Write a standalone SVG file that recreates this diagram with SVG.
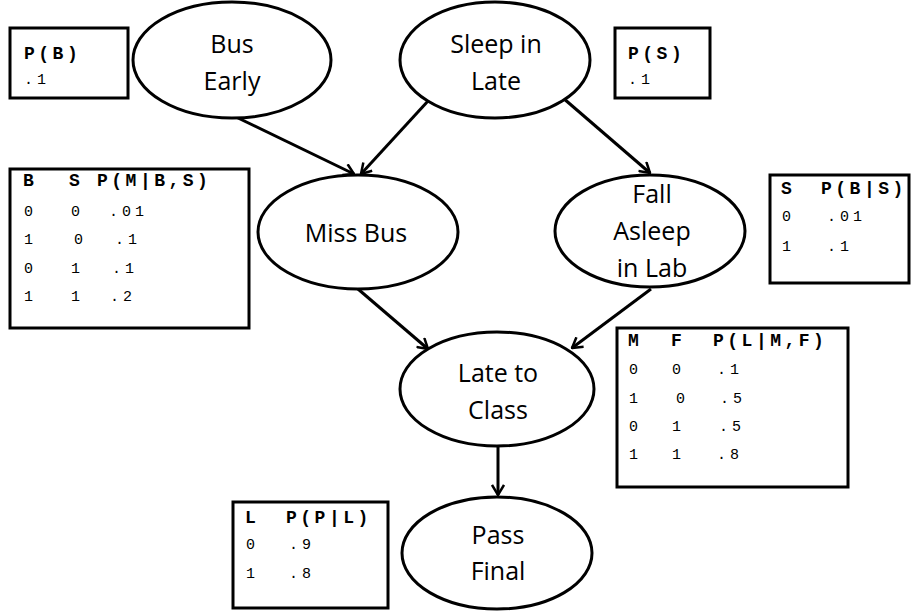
<svg xmlns="http://www.w3.org/2000/svg" width="912" height="611" viewBox="0 0 912 611">
<defs>
<style>
.node ellipse{fill:#fff;stroke:#000;stroke-width:3}
.node text{font-family:"Open Sans","Liberation Sans",sans-serif;font-size:25px;fill:#000;text-anchor:middle}
.edge{stroke:#000;stroke-width:3;fill:none}
.tbl rect{fill:#fff;stroke:#000;stroke-width:3}
.tbl .h{font-family:"Liberation Mono",monospace;font-weight:bold;font-size:18px;letter-spacing:3.5px;fill:#000}
.tbl .v{font-family:"Liberation Mono",monospace;font-size:15px;letter-spacing:4px;fill:#000}
</style>
<marker id="arr" viewBox="0 0 12 14" refX="11" refY="7" markerWidth="12" markerHeight="14" markerUnits="userSpaceOnUse" orient="auto">
<path d="M1,1 L11,7 L1,13" fill="none" stroke="#000" stroke-width="2.5"/>
</marker>
</defs>
<rect width="912" height="611" fill="#fff"/>
<g id="edges">
<line class="edge" x1="236" y1="117" x2="354" y2="174" marker-end="url(#arr)"/>
<line class="edge" x1="428" y1="101" x2="361" y2="174" marker-end="url(#arr)"/>
<line class="edge" x1="563" y1="98" x2="650" y2="173" marker-end="url(#arr)"/>
<line class="edge" x1="358" y1="289" x2="428" y2="349" marker-end="url(#arr)"/>
<line class="edge" x1="651" y1="289" x2="572" y2="348" marker-end="url(#arr)"/>
<line class="edge" x1="498" y1="447" x2="498" y2="495" marker-end="url(#arr)"/>
</g>
<g id="bus-early" class="node"><ellipse cx="232" cy="60" rx="99" ry="58"/><text x="232" y="53">Bus</text><text x="232" y="90">Early</text></g>
<g id="sleep-in-late" class="node"><ellipse cx="495" cy="60" rx="95" ry="58"/><text x="496" y="53">Sleep in</text><text x="496" y="90">Late</text></g>
<g id="miss-bus" class="node"><ellipse cx="358" cy="232" rx="100" ry="57"/><text x="356" y="242">Miss Bus</text></g>
<g id="fall-asleep" class="node"><ellipse cx="650" cy="231" rx="95" ry="56"/><text x="652" y="203">Fall</text><text x="652" y="240">Asleep</text><text x="652" y="277">in Lab</text></g>
<g id="late-to-class" class="node"><ellipse cx="497" cy="389" rx="97" ry="57"/><text x="498" y="382">Late to</text><text x="498" y="419">Class</text></g>
<g id="pass-final" class="node"><ellipse cx="497" cy="553" rx="95" ry="56"/><text x="498" y="544">Pass</text><text x="498" y="580">Final</text></g>
<g id="tbl-b" class="tbl"><rect x="10" y="28" width="118" height="70"/><text class="h" x="24" y="59">P(B)</text><text class="v" x="24" y="84">.1</text></g>
<g id="tbl-s" class="tbl"><rect x="615" y="28" width="95" height="70"/><text class="h" x="628" y="59">P(S)</text><text class="v" x="628" y="84">.1</text></g>
<g id="tbl-m" class="tbl"><rect x="10" y="169" width="239" height="159"/>
<text class="h" x="23" y="186">B</text><text class="h" x="69" y="186">S</text><text class="h" x="97" y="186">P(M|B,S)</text>
<text class="v" x="24" y="216">0</text><text class="v" x="71" y="216">0</text><text class="v" x="109" y="216">.01</text>
<text class="v" x="24" y="244">1</text><text class="v" x="74" y="244">0</text><text class="v" x="115" y="244">.1</text>
<text class="v" x="24" y="273">0</text><text class="v" x="71" y="273">1</text><text class="v" x="112" y="273">.1</text>
<text class="v" x="24" y="301">1</text><text class="v" x="71" y="301">1</text><text class="v" x="110" y="301">.2</text>
</g>
<g id="tbl-f" class="tbl"><rect x="770" y="175" width="139" height="108"/>
<text class="h" x="781" y="194">S</text><text class="h" x="821" y="194">P(B|S)</text>
<text class="v" x="782" y="221">0</text><text class="v" x="827" y="221">.01</text>
<text class="v" x="782" y="251">1</text><text class="v" x="827" y="251">.1</text>
</g>
<g id="tbl-l" class="tbl"><rect x="617" y="328" width="231" height="159"/>
<text class="h" x="628" y="346">M</text><text class="h" x="671" y="346">F</text><text class="h" x="713" y="346">P(L|M,F)</text>
<text class="v" x="629" y="374">0</text><text class="v" x="672" y="374">0</text><text class="v" x="717" y="374">.1</text>
<text class="v" x="629" y="403">1</text><text class="v" x="676" y="403">0</text><text class="v" x="720" y="403">.5</text>
<text class="v" x="629" y="431">0</text><text class="v" x="672" y="431">1</text><text class="v" x="719" y="431">.5</text>
<text class="v" x="629" y="459">1</text><text class="v" x="672" y="459">1</text><text class="v" x="717" y="459">.8</text>
</g>
<g id="tbl-p" class="tbl"><rect x="233" y="502" width="155" height="106"/>
<text class="h" x="245" y="523">L</text><text class="h" x="286" y="523">P(P|L)</text>
<text class="v" x="246" y="549">0</text><text class="v" x="289" y="549">.9</text>
<text class="v" x="246" y="578">1</text><text class="v" x="289" y="578">.8</text>
</g>
</svg>
